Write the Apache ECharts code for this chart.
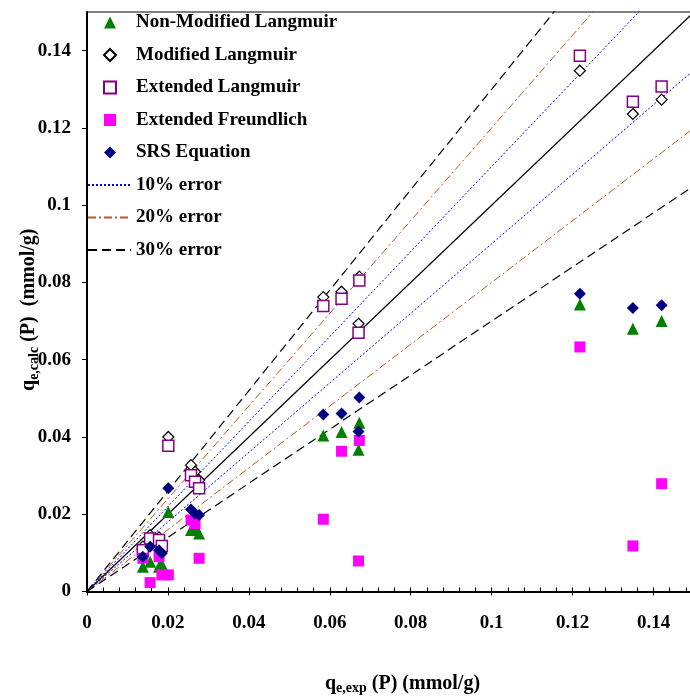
<!DOCTYPE html>
<html>
<head>
<meta charset="utf-8">
<script src="https://cdn.jsdelivr.net/npm/echarts@6/dist/echarts.min.js"></script>
<style>
  html, body { margin: 0; padding: 0; background: #fff; }
  #chart { width: 690px; height: 696px; }
</style>
</head>
<body>
<div id="chart"></div>
<script>
// Experimental phosphate uptake (mmol/g) and model predictions at each point
const qExp = [0.0138, 0.0156, 0.0178, 0.0185, 0.0201, 0.0257, 0.0267, 0.0277,
              0.0584, 0.0629, 0.0673, 0.0671, 0.1218, 0.1349, 0.1420];
const nonModifiedLangmuir = [0.0064, 0.0077, 0.0064, 0.0070, 0.0206, 0.0159, 0.0163, 0.0150,
                             0.0404, 0.0413, 0.0437, 0.0367, 0.0743, 0.0680, 0.0700];
const modifiedLangmuir = [0.0116, 0.0146, 0.0140, 0.0125, 0.0400, 0.0327, 0.0310, 0.0288,
                          0.0762, 0.0776, 0.0815, 0.0693, 0.1348, 0.1236, 0.1273];
const extendedLangmuir = [0.0107, 0.0137, 0.0133, 0.0118, 0.0377, 0.0301, 0.0284, 0.0267,
                          0.0739, 0.0758, 0.0805, 0.0670, 0.1387, 0.1268, 0.1307];
const extendedFreundlich = [0.0086, 0.0023, 0.0090, 0.0043, 0.0043, 0.0185, 0.0176, 0.0086,
                            0.0187, 0.0363, 0.0391, 0.0079, 0.0633, 0.0118, 0.0279];
const srsEquation = [0.0090, 0.0116, 0.0107, 0.0099, 0.0267, 0.0212, 0.0202, 0.0198,
                     0.0458, 0.0461, 0.0502, 0.0414, 0.0771, 0.0734, 0.0741];

// Error envelopes around the 1:1 line
const errorLevels = [
  { name: '10% error', factors: [1.1, 0.9], color: '#0000FF', type: [2, 2], width: 1 },
  { name: '20% error', factors: [1.2, 0.8], color: '#C0571F', type: [8, 3, 2, 3], width: 1 },
  { name: '30% error', factors: [1.3, 0.7], color: '#000000', type: [9, 5], width: 1.2 }
];
const axisMax = 0.15;
const lineEnd = 0.2;

const serif = 'Liberation Serif, Times New Roman, serif';
const pairs = arr => qExp.map((x, i) => [x, arr[i]]);

const series = [];
// 1:1 reference line
series.push({
  type: 'line', name: '1:1', data: [[0, 0], [lineEnd, lineEnd]],
  symbol: 'none', silent: true, z: 1, clip: true,
  lineStyle: { color: '#000', width: 1.2, type: 'solid' }
});
errorLevels.forEach(lv => {
  lv.factors.forEach(f => {
    series.push({
      type: 'line', name: lv.name, data: [[0, 0], [lineEnd, lineEnd * f]],
      symbol: 'none', silent: true, z: 1, clip: true,
      itemStyle: { color: lv.color },
      lineStyle: { color: lv.color, width: lv.width, type: lv.type }
    });
  });
});

const pointSeries = [
  { name: 'Non-Modified Langmuir', data: nonModifiedLangmuir, symbol: 'triangle', size: 12,
    itemStyle: { color: '#008000', borderColor: '#008000', borderWidth: 0 } },
  { name: 'Modified Langmuir', data: modifiedLangmuir, symbol: 'diamond', size: 11,
    itemStyle: { color: '#ffffff', borderColor: '#000000', borderWidth: 1.2 } },
  { name: 'Extended Langmuir', data: extendedLangmuir, symbol: 'rect', size: 11,
    itemStyle: { color: '#ffffff', borderColor: '#800080', borderWidth: 1.5 } },
  { name: 'Extended Freundlich', data: extendedFreundlich, symbol: 'rect', size: 11,
    itemStyle: { color: '#FF00FF', borderColor: '#FF00FF', borderWidth: 0 } },
  { name: 'SRS Equation', data: srsEquation, symbol: 'diamond', size: 12,
    itemStyle: { color: '#000080', borderColor: '#000080', borderWidth: 0 } }
];
pointSeries.forEach((s, k) => {
  series.push({
    type: 'scatter', name: s.name, data: pairs(s.data),
    symbol: s.symbol, symbolSize: s.size, z: 3 + k,
    itemStyle: Object.assign({ opacity: 1 }, s.itemStyle),
    emphasis: { disabled: true }
  });
});

const tickLabel = v => {
  const r = v / 0.02;
  if (Math.abs(r - Math.round(r)) > 1e-6) return '';
  return String(parseFloat(v.toFixed(2)));
};

const labelStyle = { fontFamily: serif, fontWeight: 'bold', fontSize: 19, color: '#000' };
const legendText = { fontFamily: serif, fontWeight: 'bold', fontSize: 19, color: '#000', lineHeight: 21 };
const rowGap = 11.5;
const rowH = 21;
const titleRich = {
  q: { fontFamily: serif, fontWeight: 'bold', fontSize: 20, lineHeight: 24 },
  sub: { fontFamily: serif, fontWeight: 'bold', fontSize: 14, lineHeight: 12, verticalAlign: 'bottom' },
  t: { fontFamily: serif, fontWeight: 'bold', fontSize: 20, lineHeight: 24 }
};

const chart = echarts.init(document.getElementById('chart'), null, { renderer: 'canvas' });
chart.setOption({
  animation: false,
  backgroundColor: '#ffffff',
  grid: {
    left: 87, top: 12, right: -4, bottom: 104.5,
    containLabel: false, outerBoundsMode: 'none',
    show: true, borderColor: '#000', borderWidth: 1, backgroundColor: 'transparent'
  },
  legend: [{
    // marker entries
    data: pointSeries.map(s => s.name),
    orient: 'vertical',
    left: 103, top: 12,
    padding: 0,
    itemWidth: 12, itemHeight: 12, itemGap: rowGap,
    selectedMode: false,
    textStyle: Object.assign({ padding: [0, 0, 0, 15] }, legendText)
  }, {
    // error-line entries
    data: errorLevels.map(l => ({
      name: l.name,
      itemStyle: { color: 'rgba(0,0,0,0)', borderColor: 'rgba(0,0,0,0)', borderWidth: 0, opacity: 0 }
    })),
    orient: 'vertical',
    left: 87, top: 12 + 5 * (rowH + rowGap),
    padding: 0,
    itemWidth: 43, itemHeight: 11, itemGap: rowGap,
    selectedMode: false,
    textStyle: legendText
  }],
  xAxis: [{
    type: 'value', min: 0, max: axisMax, interval: 0.02,
    position: 'bottom',
    axisLine: { show: true, onZero: false, lineStyle: { color: '#000', width: 2 } },
    axisTick: { show: true, inside: true, length: 4, lineStyle: { color: '#000', width: 1 } },
    minorTick: { show: true, splitNumber: 5, length: 4, lineStyle: { color: '#000', width: 1 } },
    splitLine: { show: false },
    axisLabel: Object.assign({ margin: 22, formatter: tickLabel }, labelStyle),
    name: '{q|q}{sub|e,exp}{t| (P) (mmol/g)}',
    nameLocation: 'middle', nameGap: 80,
    nameTextStyle: {
      fontFamily: serif, fontWeight: 'bold', fontSize: 20, color: '#000', padding: [0, 0, 0, 24],
      rich: titleRich
    }
  }, {
    type: 'value', min: 0, max: axisMax, interval: 0.02,
    position: 'bottom', offset: 0,
    axisLine: { show: false },
    axisTick: { show: true, inside: false, length: 4, lineStyle: { color: '#000', width: 1 } },
    splitLine: { show: false },
    axisLabel: { show: false }
  }],
  yAxis: {
    type: 'value', min: 0, max: axisMax, interval: 0.02,
    axisLine: { show: true, onZero: false, lineStyle: { color: '#000', width: 2 } },
    axisTick: { show: true, inside: false, length: 5, lineStyle: { color: '#000', width: 1 } },
    splitLine: { show: false },
    axisLabel: Object.assign({ margin: 16, formatter: tickLabel, showMaxLabel: false }, labelStyle),
    name: '{q|q}{sub|e,calc}{t| (P)  (mmol/g)}',
    nameLocation: 'middle', nameGap: 46, nameRotate: 90, nameMoveOverlap: false,
    nameTextStyle: {
      fontFamily: serif, fontWeight: 'bold', fontSize: 20, color: '#000', padding: [0, 16, 0, 0],
      rich: titleRich
    }
  },
  series: series
});
</script>
</body>
</html>
